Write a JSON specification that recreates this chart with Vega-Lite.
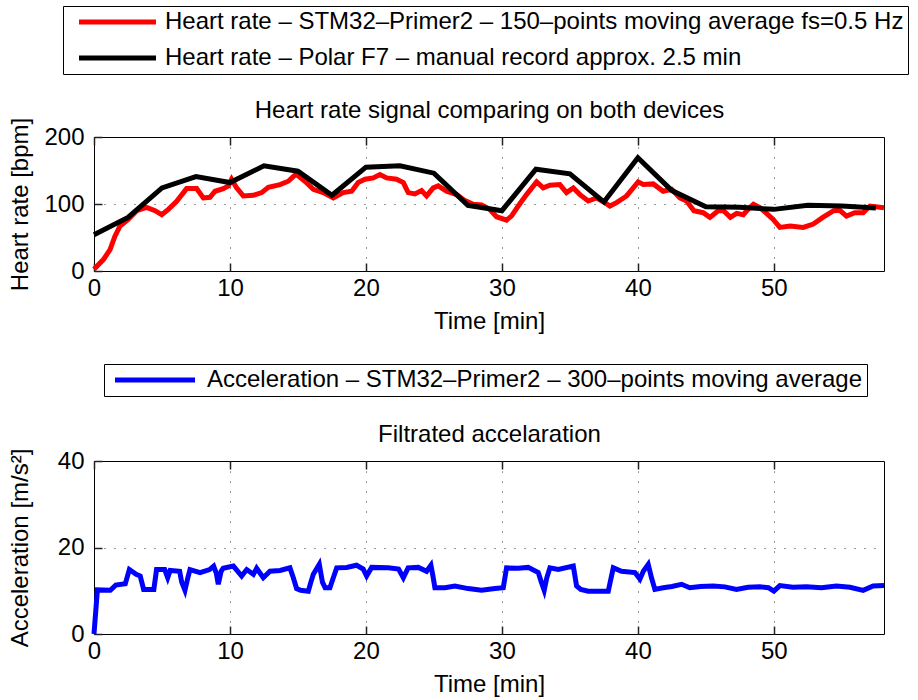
{
  "$schema": "https://vega.github.io/schema/vega-lite/v6.json",
  "background": "white",
  "padding": {"left": 7, "top": 5, "right": 0, "bottom": 0},
  "spacing": 29,
  "config": {
    "font": "Liberation Sans",
    "view": {"stroke": "black", "strokeWidth": 1},
    "axis": {
      "labelFont": "Liberation Sans", "labelFontSize": 24, "labelColor": "black", "labelFlush": false,
      "titleFont": "Liberation Sans", "titleFontSize": 24, "titleFontWeight": "normal", "titleColor": "black",
      "gridColor": "black", "gridDash": [1, 9], "gridOpacity": 0.8, "gridWidth": 1,
      "domain": false, "ticks": true, "tickSize": -8, "tickColor": "#222222", "tickWidth": 1.5, "labelPadding": 13
    },
    "axisX": {"titlePadding": 9},
    "legend": {
      "labelFont": "Liberation Sans", "labelFontSize": 24, "labelColor": "black", "labelLimit": 2000,
      "strokeColor": "black", "fillColor": "white", "padding": 4, "rowPadding": 12,
      "symbolStrokeWidth": 5, "symbolSize": 256
    }
  },
  "datasets": {
    "red": [
      {"t": 0, "bpm": 2.5}, {"t": 0.69, "bpm": 17}, {"t": 1.18, "bpm": 32}, {"t": 1.54, "bpm": 52}, {"t": 1.91, "bpm": 67},
      {"t": 2.52, "bpm": 77}, {"t": 3.14, "bpm": 90}, {"t": 3.87, "bpm": 95}, {"t": 4.49, "bpm": 90}, {"t": 4.98, "bpm": 84},
      {"t": 5.47, "bpm": 92}, {"t": 6.08, "bpm": 104}, {"t": 6.81, "bpm": 123}, {"t": 7.55, "bpm": 123}, {"t": 8.04, "bpm": 109},
      {"t": 8.53, "bpm": 110}, {"t": 8.9, "bpm": 119}, {"t": 9.51, "bpm": 123}, {"t": 9.88, "bpm": 127}, {"t": 10.12, "bpm": 137},
      {"t": 10.49, "bpm": 124}, {"t": 10.98, "bpm": 112}, {"t": 11.72, "bpm": 113}, {"t": 12.33, "bpm": 117}, {"t": 12.82, "bpm": 125},
      {"t": 13.68, "bpm": 129}, {"t": 14.29, "bpm": 134}, {"t": 14.71, "bpm": 142}, {"t": 14.9, "bpm": 144}, {"t": 15.51, "bpm": 134},
      {"t": 16.13, "bpm": 122}, {"t": 16.86, "bpm": 117}, {"t": 17.6, "bpm": 109}, {"t": 18.33, "bpm": 117}, {"t": 18.95, "bpm": 119},
      {"t": 19.43, "bpm": 132}, {"t": 19.93, "bpm": 137}, {"t": 20.54, "bpm": 139}, {"t": 21.03, "bpm": 144}, {"t": 21.52, "bpm": 139},
      {"t": 22.25, "bpm": 137}, {"t": 22.75, "bpm": 132}, {"t": 23.11, "bpm": 117}, {"t": 23.6, "bpm": 115}, {"t": 24.09, "bpm": 120},
      {"t": 24.46, "bpm": 112}, {"t": 24.95, "bpm": 124}, {"t": 25.32, "bpm": 127}, {"t": 25.93, "bpm": 119}, {"t": 26.67, "bpm": 114},
      {"t": 27.28, "bpm": 105}, {"t": 27.89, "bpm": 99.5}, {"t": 28.5, "bpm": 98.5}, {"t": 29.1, "bpm": 92}, {"t": 29.6, "bpm": 81},
      {"t": 30.34, "bpm": 76}, {"t": 30.7, "bpm": 82}, {"t": 31.2, "bpm": 97}, {"t": 31.81, "bpm": 114}, {"t": 32.55, "bpm": 133},
      {"t": 33.04, "bpm": 124}, {"t": 33.53, "bpm": 128}, {"t": 34.26, "bpm": 129}, {"t": 34.75, "bpm": 117}, {"t": 35.25, "bpm": 124},
      {"t": 35.74, "bpm": 114}, {"t": 36.35, "bpm": 104.5}, {"t": 36.96, "bpm": 109}, {"t": 37.57, "bpm": 102}, {"t": 37.94, "bpm": 97},
      {"t": 38.43, "bpm": 102}, {"t": 39.17, "bpm": 112}, {"t": 40.02, "bpm": 133}, {"t": 40.39, "bpm": 129}, {"t": 41.13, "bpm": 130},
      {"t": 41.86, "bpm": 119}, {"t": 42.48, "bpm": 122}, {"t": 43.09, "bpm": 109}, {"t": 43.58, "bpm": 104.5}, {"t": 44.12, "bpm": 90},
      {"t": 44.8, "bpm": 87}, {"t": 45.3, "bpm": 80}, {"t": 45.9, "bpm": 90}, {"t": 46.3, "bpm": 90}, {"t": 46.8, "bpm": 80},
      {"t": 47.26, "bpm": 86}, {"t": 47.75, "bpm": 84}, {"t": 48.1, "bpm": 92}, {"t": 48.5, "bpm": 99.5}, {"t": 48.97, "bpm": 94.5},
      {"t": 49.46, "bpm": 86}, {"t": 49.95, "bpm": 77}, {"t": 50.44, "bpm": 65}, {"t": 51.2, "bpm": 67}, {"t": 52.16, "bpm": 65},
      {"t": 52.9, "bpm": 70}, {"t": 53.6, "bpm": 80}, {"t": 54.4, "bpm": 90}, {"t": 54.85, "bpm": 90.5}, {"t": 55.34, "bpm": 82},
      {"t": 55.95, "bpm": 87}, {"t": 56.57, "bpm": 87}, {"t": 57.06, "bpm": 97}, {"t": 58.1, "bpm": 94.5}
    ],
    "black": [
      {"t": 0, "bpm": 54}, {"t": 2.5, "bpm": 80}, {"t": 5, "bpm": 124}, {"t": 7.5, "bpm": 141}, {"t": 10, "bpm": 132},
      {"t": 12.5, "bpm": 157}, {"t": 15, "bpm": 149}, {"t": 17.5, "bpm": 113}, {"t": 20, "bpm": 155}, {"t": 22.5, "bpm": 157},
      {"t": 25, "bpm": 146}, {"t": 27.5, "bpm": 98}, {"t": 30, "bpm": 90}, {"t": 32.5, "bpm": 152}, {"t": 35, "bpm": 145},
      {"t": 37.5, "bpm": 103}, {"t": 40, "bpm": 169}, {"t": 42.5, "bpm": 120}, {"t": 45, "bpm": 96}, {"t": 47.5, "bpm": 95},
      {"t": 50, "bpm": 92}, {"t": 52.5, "bpm": 98}, {"t": 55, "bpm": 97}, {"t": 57.5, "bpm": 94}
    ],
    "acc": [
      {"t": 0, "a": 0}, {"t": 0.25, "a": 10.2}, {"t": 1.2, "a": 10.1}, {"t": 1.6, "a": 11.3}, {"t": 2.3, "a": 11.6},
      {"t": 2.6, "a": 14.9}, {"t": 3.1, "a": 13.8}, {"t": 3.4, "a": 13.4}, {"t": 3.65, "a": 10.3}, {"t": 4.4, "a": 10.3},
      {"t": 4.6, "a": 14.9}, {"t": 5.2, "a": 14.9}, {"t": 5.42, "a": 13}, {"t": 5.6, "a": 14.7}, {"t": 6.3, "a": 14.5},
      {"t": 6.45, "a": 12}, {"t": 6.69, "a": 10.1}, {"t": 6.9, "a": 13}, {"t": 7.06, "a": 14.9}, {"t": 7.8, "a": 14.2},
      {"t": 8.5, "a": 14.9}, {"t": 8.8, "a": 15.7}, {"t": 9.0, "a": 14}, {"t": 9.14, "a": 11.5}, {"t": 9.35, "a": 14.5},
      {"t": 9.5, "a": 15.2}, {"t": 10.25, "a": 15.7}, {"t": 10.86, "a": 13.4}, {"t": 11.23, "a": 14.9}, {"t": 11.72, "a": 13.8},
      {"t": 11.96, "a": 15.2}, {"t": 12.45, "a": 13}, {"t": 12.94, "a": 14.5}, {"t": 13.68, "a": 14.7}, {"t": 14.41, "a": 15.3},
      {"t": 14.66, "a": 13}, {"t": 14.9, "a": 10.5}, {"t": 15.2, "a": 10.1}, {"t": 15.76, "a": 9.9}, {"t": 15.95, "a": 12},
      {"t": 16.13, "a": 13.8}, {"t": 16.57, "a": 16.1}, {"t": 16.8, "a": 12}, {"t": 17.0, "a": 10.7}, {"t": 17.35, "a": 10.7},
      {"t": 17.6, "a": 13}, {"t": 17.85, "a": 15.3}, {"t": 18.58, "a": 15.4}, {"t": 19.31, "a": 15.9}, {"t": 19.8, "a": 15},
      {"t": 20.05, "a": 13.4}, {"t": 20.42, "a": 15.4}, {"t": 21.64, "a": 15.3}, {"t": 22.4, "a": 15}, {"t": 22.75, "a": 13},
      {"t": 23.1, "a": 15.3}, {"t": 23.85, "a": 15.4}, {"t": 24.46, "a": 14.5}, {"t": 24.78, "a": 15.9}, {"t": 24.95, "a": 13},
      {"t": 25.07, "a": 10.7}, {"t": 25.81, "a": 10.7}, {"t": 26.54, "a": 11.1}, {"t": 27.52, "a": 10.5}, {"t": 28.5, "a": 10.1},
      {"t": 29.49, "a": 10.5}, {"t": 30.1, "a": 10.7}, {"t": 30.34, "a": 15.3}, {"t": 31.2, "a": 15.2}, {"t": 31.93, "a": 15.4},
      {"t": 32.67, "a": 14.2}, {"t": 32.9, "a": 12}, {"t": 33.11, "a": 10.1}, {"t": 33.3, "a": 13}, {"t": 33.53, "a": 15.3},
      {"t": 34.14, "a": 14.9}, {"t": 35.25, "a": 15.7}, {"t": 35.49, "a": 11.1}, {"t": 35.8, "a": 10.3}, {"t": 36.35, "a": 9.9},
      {"t": 37.82, "a": 9.9}, {"t": 38.19, "a": 15.3}, {"t": 38.8, "a": 14.5}, {"t": 39.78, "a": 14.2}, {"t": 40.15, "a": 12.7},
      {"t": 40.4, "a": 14.5}, {"t": 40.76, "a": 16.1}, {"t": 41.0, "a": 13}, {"t": 41.25, "a": 10.3}, {"t": 41.86, "a": 10.7},
      {"t": 42.5, "a": 11}, {"t": 43.21, "a": 11.5}, {"t": 43.82, "a": 10.7}, {"t": 44.6, "a": 11}, {"t": 45.54, "a": 11.1},
      {"t": 46.4, "a": 10.9}, {"t": 47.25, "a": 10.3}, {"t": 48.1, "a": 10.8}, {"t": 48.97, "a": 10.9}, {"t": 49.6, "a": 10.7},
      {"t": 50.0, "a": 9.9}, {"t": 50.44, "a": 11.2}, {"t": 51.4, "a": 10.8}, {"t": 52.4, "a": 10.9}, {"t": 53.5, "a": 10.7},
      {"t": 54.6, "a": 11.1}, {"t": 55.6, "a": 10.8}, {"t": 56.57, "a": 10.1}, {"t": 57.3, "a": 11.1}, {"t": 58.1, "a": 11.2}
    ]
  },
  "resolve": {
    "scale": {"color": "independent", "x": "independent", "y": "independent"},
    "legend": {"color": "independent"}
  },
  "vconcat": [
    {
      "width": 790,
      "height": 134,
      "layer": [
        {
          "data": {"name": "red"},
          "mark": {"type": "line", "strokeWidth": 5, "color": "#ff0000"},
          "encoding": {
            "x": {"field": "t", "type": "quantitative", "scale": {"domain": [0, 58.1], "nice": false, "zero": false},
                  "axis": {"title": "Time [min]", "values": [0, 10, 20, 30, 40, 50], "orient": "bottom"}},
            "y": {"field": "bpm", "type": "quantitative", "scale": {"domain": [0, 200], "nice": false},
                  "axis": {"title": "Heart rate [bpm]", "values": [0, 100, 200], "labelPadding": 18, "titleX": -62}},
            "color": {"datum": "STM32", "type": "nominal",
                      "scale": {"domain": ["STM32", "Polar"], "range": ["#ff0000", "#000000"]},
                      "legend": {"orient": "none", "legendX": -31, "legendY": -131, "title": null,
                                 "symbolType": "M-1,0H8.625", "symbolOffset": 8, "labelOffset": 66,
                                 "labelExpr": "datum.value == 'STM32' ? 'Heart rate – STM32–Primer2 – 150–points moving average fs=0.5 Hz' : 'Heart rate – Polar F7 – manual record approx. 2.5 min'"}}
          }
        },
        {
          "data": {"name": "black"},
          "mark": {"type": "line", "strokeWidth": 5, "color": "#000000"},
          "encoding": {
            "x": {"field": "t", "type": "quantitative",
                  "axis": {"orient": "top", "title": "Heart rate signal comparing on both devices", "labels": false, "grid": false, "domain": false, "values": [0, 10, 20, 30, 40, 50], "titlePadding": 14}},
            "y": {"field": "bpm", "type": "quantitative"},
            "color": {"datum": "Polar", "type": "nominal"}
          }
        }
      ]
    },
    {
      "width": 790,
      "height": 173,
      "data": {"name": "acc"},
      "layer": [
        {
          "mark": {"type": "line", "strokeWidth": 5, "color": "#0000ff"},
          "encoding": {
            "x": {"field": "t", "type": "quantitative", "scale": {"domain": [0, 58.1], "nice": false, "zero": false},
                  "axis": {"title": "Time [min]", "values": [0, 10, 20, 30, 40, 50], "orient": "bottom"}},
            "y": {"field": "a", "type": "quantitative", "scale": {"domain": [0, 40], "nice": false},
                  "axis": {"title": "Acceleration [m/s²]", "values": [0, 20, 40], "labelPadding": 18, "titleX": -62}},
            "color": {"datum": "acc", "type": "nominal",
                      "scale": {"domain": ["acc"], "range": ["#0000ff"]},
                      "legend": {"orient": "none", "legendX": 10, "legendY": -97, "title": null,
                                 "symbolType": "M-1,0H9", "symbolOffset": 3, "labelOffset": 72,
                                 "labelExpr": "'Acceleration – STM32–Primer2 – 300–points moving average'"}}
          }
        },
        {
          "mark": {"type": "line", "strokeWidth": 5, "opacity": 0},
          "encoding": {
            "x": {"field": "t", "type": "quantitative",
                  "axis": {"orient": "top", "title": "Filtrated accelaration", "labels": false, "grid": false, "domain": false, "values": [0, 10, 20, 30, 40, 50], "titlePadding": 14}},
            "y": {"field": "a", "type": "quantitative"}
          }
        }
      ]
    }
  ]
}
